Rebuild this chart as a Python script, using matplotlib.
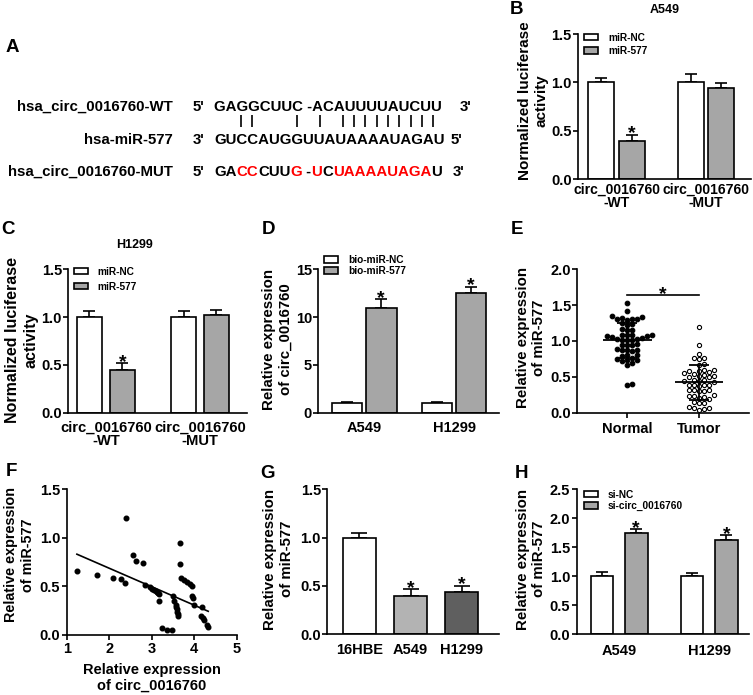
import numpy as np
import matplotlib
matplotlib.use("Agg")
import matplotlib.pyplot as plt
from matplotlib.patches import Patch

plt.rcParams['font.family'] = ['Liberation Sans', 'DejaVu Sans']
plt.rcParams['font.weight'] = 'bold'
plt.rcParams['axes.labelweight'] = 'bold'
plt.rcParams['axes.titleweight'] = 'bold'
plt.rcParams['axes.linewidth'] = 1.2
plt.rcParams['xtick.major.width'] = 1.2
plt.rcParams['ytick.major.width'] = 1.2
plt.rcParams['ytick.major.size'] = 3.6
plt.rcParams['ytick.major.pad'] = 1
plt.rcParams['xtick.labelsize'] = 10.5
plt.rcParams['ytick.labelsize'] = 10.5

W, H = 753, 695

# ---- A: binding sites ----
wt_label = 'hsa_circ_0016760-WT'
mir_label = 'hsa-miR-577'
mut_label = 'hsa_circ_0016760-MUT'
wt_seq = 'GAGGCUUC -ACAUUUUAUCUU'
mir_seq = 'GUCCAUGGUUAUAAAAUAGAU'
mut_parts = [('GA', 'black'), ('CC', 'red'), ('CUU', 'black'), ('G', 'red'),
             (' -', 'black'), ('U', 'red'), ('C', 'black'),
             ('UAAAAUAGA', 'red'), ('U', 'black')]
pair_cols = [2, 3, 7, 9, 11, 12, 13, 14, 15, 16, 17, 18, 19]

# ---- B / C: luciferase ----
luc_groups = ['circ_0016760\n-WT', 'circ_0016760\n-MUT']
luc_legend = ['miR-NC', 'miR-577']
b_nc = [1.0, 1.0]
b_nc_err = [0.05, 0.085]
b_mir = [0.40, 0.94]
b_mir_err = [0.06, 0.05]
c_nc = [1.0, 1.0]
c_nc_err = [0.06, 0.065]
c_mir = [0.45, 1.02]
c_mir_err = [0.065, 0.05]

# ---- D: pull-down ----
cells = ['A549', 'H1299']
d_legend = ['bio-miR-NC', 'bio-miR-577']
d_nc = [1.0, 1.0]
d_nc_err = [0.08, 0.08]
d_mir = [11.0, 12.5]
d_mir_err = [0.85, 0.7]

# ---- E: tissues ----
e_groups = ['Normal', 'Tumor']
e_normal = [1.53, 1.42, 1.35, 1.34, 1.30, 1.31, 1.29, 1.30, 1.32, 1.24, 1.22, 1.25,
            1.17, 1.15, 1.16, 1.07, 1.09, 1.08, 1.06, 1.08, 1.07, 1.09,
            1.03, 1.02, 1.04, 1.01, 1.03, 1.02, 0.95, 0.96, 0.94, 0.95,
            0.88, 0.89, 0.87, 0.88, 0.86, 0.80, 0.81, 0.79,
            0.76, 0.74, 0.73, 0.75, 0.72, 0.66, 0.69, 0.40, 0.38]
e_tumor = [1.20, 0.95, 0.82, 0.76, 0.75, 0.76, 0.68, 0.67,
           0.59, 0.58, 0.57, 0.59, 0.58, 0.54, 0.55,
           0.51, 0.50, 0.51, 0.52, 0.50, 0.45, 0.44, 0.43, 0.44, 0.45,
           0.38, 0.39, 0.37, 0.38, 0.39, 0.31, 0.30, 0.32, 0.31, 0.30,
           0.23, 0.22, 0.24, 0.23, 0.20, 0.19, 0.14, 0.13, 0.15,
           0.06, 0.07, 0.05, 0.04, 0.08]

# ---- F: correlation ----
f_circ = [1.24, 1.71, 2.08, 2.27, 2.38, 2.39, 2.55, 2.64, 2.80, 2.85, 2.96, 3.01,
          3.05, 3.10, 3.12, 3.14, 3.17, 3.18, 3.24, 3.36, 3.47, 3.51, 3.53, 3.56,
          3.58, 3.59, 3.60, 3.61, 3.62, 3.66, 3.67, 3.70, 3.76, 3.84, 3.89, 3.94,
          3.95, 3.96, 4.00, 4.18, 4.17, 4.20, 4.23, 4.29, 4.33]
f_mir = [0.66, 0.62, 0.59, 0.58, 0.54, 1.20, 0.82, 0.76, 0.745, 0.515, 0.49, 0.477,
         0.464, 0.45, 0.44, 0.437, 0.42, 0.35, 0.07, 0.055, 0.052, 0.40, 0.35, 0.31,
         0.29, 0.27, 0.24, 0.22, 0.20, 0.95, 0.73, 0.587, 0.567, 0.546, 0.525, 0.505,
         0.40, 0.38, 0.31, 0.29, 0.20, 0.17, 0.15, 0.10, 0.08]

# ---- G: cell lines ----
g_cells = ['16HBE', 'A549', 'H1299']
g_vals = [1.0, 0.40, 0.44]
g_err = [0.05, 0.065, 0.06]
g_colors = ['white', '#b3b3b3', '#5f5f5f']

# ---- H: knockdown ----
h_legend = ['si-NC', 'si-circ_0016760']
h_nc = [1.0, 1.0]
h_nc_err = [0.075, 0.055]
h_si = [1.74, 1.62]
h_si_err = [0.07, 0.085]

GRAY = '#a6a6a6'

fig = plt.figure(figsize=(W / 100, H / 100), dpi=100)
# pixel canvas for free text
cv = fig.add_axes([0, 0, 1, 1])
cv.set_xlim(0, W)
cv.set_ylim(H, 0)
cv.axis('off')
rend = fig.canvas.get_renderer()


def add_ax(l, t, r, b):
    ax = fig.add_axes([l / W, 1 - b / H, (r - l) / W, (b - t) / H])
    ax.spines['top'].set_visible(False)
    ax.spines['right'].set_visible(False)
    return ax


def ylab(ax, text, x, y, size=10.8):
    ax.set_ylabel(text, fontsize=size, va='center', ha='center', linespacing=1.25)
    ax.yaxis.set_label_coords(x, y, transform=cv.transData)


def stars(ax, xs, tops):
    for x, t in zip(xs, tops):
        ax.annotate('*', (x, t), xytext=(0, -2.5), textcoords='offset points',
                    ha='center', va='baseline', fontsize=14)


def grouped(ax, s1, e1, s2, e2, off, width, c2=GRAY):
    x = np.arange(len(s1))
    ax.bar(x - off, s1, width, color='white', edgecolor='black', linewidth=1.2, zorder=2)
    ax.bar(x + off, s2, width, color=c2, edgecolor='black', linewidth=1.2, zorder=2)
    for xx, v, e in [(x - off, s1, e1), (x + off, s2, e2)]:
        ax.errorbar(xx, v, yerr=[np.zeros(len(x)), e], fmt='none', ecolor='black',
                    elinewidth=1.2, capsize=4.5, capthick=1.2, zorder=1)
    return x


def legend(ax, labels, colors, anchor, ls):
    hs = [Patch(facecolor=c, edgecolor='black', linewidth=1.2) for c in colors]
    ax.legend(hs, labels, loc='upper left', bbox_to_anchor=anchor, frameon=False,
              fontsize=7.3, handlelength=1.35, handleheight=0.6, handletextpad=1.0,
              labelspacing=ls, borderpad=0, borderaxespad=0)


def text_width(s, size):
    tmp = cv.text(0, 0, s, fontsize=size)
    w = tmp.get_window_extent(rend).width
    tmp.remove()
    return w


# panel letters
for letter, (lx, ly) in zip('ABCDEFGH', [(12, 47), (517, 10), (8, 230), (269, 230),
                                        (517, 230), (11, 472), (268, 473), (522, 473)]):
    cv.text(lx, ly, letter, fontsize=13.5, ha='center', va='center')

# ---- A ----
fs = 10.8
cv.text(173, 111.2, wt_label, ha='right', va='baseline', fontsize=fs)
cv.text(193, 111.2, "5'", va='baseline', fontsize=fs)
cv.text(214, 111.2, wt_seq, va='baseline', fontsize=fs)
cv.text(460, 111.2, "3'", va='baseline', fontsize=fs)
cv.text(173, 143.5, mir_label, ha='right', va='baseline', fontsize=fs)
cv.text(193, 143.5, "3'", va='baseline', fontsize=fs)
cv.text(214, 143.5, mir_seq, va='baseline', fontsize=fs)
cv.text(451, 143.5, "5'", va='baseline', fontsize=fs)
cv.text(173, 175.5, mut_label, ha='right', va='baseline', fontsize=fs)
cv.text(193, 175.5, "5'", va='baseline', fontsize=fs)
prefix = ''
for s, c in mut_parts:
    cv.text(214 + (text_width(prefix, fs) if prefix else 0), 175.5, s, color=c,
            va='baseline', fontsize=fs)
    prefix += s
cv.text(453, 175.5, "3'", va='baseline', fontsize=fs)
cv.vlines(212.4 + 11.33 * (np.array(pair_cols) + 0.5), 115, 127, color='black', lw=1.2)

# ---- B ----
ax = add_ax(578, 34, 751, 179.3)
x = grouped(ax, b_nc, b_nc_err, b_mir, b_mir_err, 0.17, 0.29)
stars(ax, [x[0] + 0.17], [b_mir[0] + b_mir_err[0]])
ax.set_xlim(-0.43, 1.50)
ax.set_ylim(0, 1.5)
ax.set_yticks([0, 0.5, 1.0, 1.5])
ax.set_xticks(x, luc_groups, fontsize=10.1, linespacing=0.95)
ax.tick_params(axis='x', length=0, pad=2.5)
ax.set_title('A549', fontsize=9, pad=15)
legend(ax, luc_legend, ['white', GRAY], (0.035, 1.01), 0.35)
ylab(ax, 'Normalized luciferase\nactivity', 533, 101, 11.0)

# ---- C ----
ax = add_ax(68.3, 269.3, 247, 412.7)
x = grouped(ax, c_nc, c_nc_err, c_mir, c_mir_err, 0.175, 0.27)
stars(ax, [x[0] + 0.175], [c_mir[0] + c_mir_err[0]])
ax.set_xlim(-0.40, 1.50)
ax.set_ylim(0, 1.5)
ax.set_yticks([0, 0.5, 1.0, 1.5])
ax.set_xticks(x, luc_groups, fontsize=10.6, linespacing=0.95)
ax.tick_params(axis='x', length=0, pad=6)
ax.set_title('H1299', fontsize=9, pad=15, x=0.373)
legend(ax, luc_legend, ['white', GRAY], (0.032, 1.019), 0.5)
ylab(ax, 'Normalized luciferase\nactivity', 22, 340, 11.5)

# ---- D ----
ax = add_ax(318.3, 269.3, 499, 412.7)
x = grouped(ax, d_nc, d_nc_err, d_mir, d_mir_err, 0.19, 0.34)
stars(ax, x + 0.19, np.array(d_mir) + np.array(d_mir_err))
ax.set_xlim(-0.51, 1.50)
ax.set_ylim(0, 15)
ax.set_yticks([0, 5, 10, 15])
ax.set_xticks(x, cells)
ax.tick_params(axis='x', length=0, pad=6)
legend(ax, d_legend, ['white', GRAY], (0.032, 1.10), 0.1)
ylab(ax, 'Relative expression\nof circ_0016760', 277.5, 339)


# ---- E ----
def swarm(vals, ux, uy, gap):
    ys = np.asarray(vals) * uy
    xs = np.zeros(len(ys))
    done = []
    for i in np.argsort(ys):
        for k in range(80):
            step = (k + 1) // 2
            cand = step * gap * 0.5 * (1 if k % 2 == 1 else -1)
            if all((cand - xs[j]) ** 2 + (ys[i] - ys[j]) ** 2 >= gap ** 2 for j in done):
                xs[i] = cand
                break
        done.append(i)
    return xs / ux


ax = add_ax(577.3, 269.3, 749, 412.7)
ux = (749 - 577.3) / 2.4
uy = (412.7 - 269.3) / 2.0
for k, (vals, face) in enumerate([(e_normal, 'black'), (e_tumor, 'white')]):
    pos = k + 1 + swarm(vals, ux, uy, 5.0)
    ax.scatter(pos, vals, s=11 if face == 'black' else 9, facecolor=face,
               edgecolor='black', linewidth=0.8, zorder=3)
    m = np.mean(vals)
    sd = np.std(vals, ddof=1)
    ax.hlines(m, k + 1 - 0.34, k + 1 + 0.34, color='black', lw=1.3, zorder=4)
    ax.errorbar(k + 1, m, yerr=sd, fmt='none', ecolor='black', elinewidth=1.3,
                capsize=7.5, capthick=1.3, zorder=4)
ax.plot([1, 2], [1.64, 1.64], color='black', lw=1.2)
stars(ax, [1.5], [1.64])
ax.set_xlim(0.3, 2.7)
ax.set_ylim(0, 2.0)
ax.set_yticks([0, 0.5, 1.0, 1.5, 2.0])
ax.set_xticks([1, 2], e_groups)
ax.tick_params(axis='x', length=3.6, pad=3)
ylab(ax, 'Relative expression\nof miR-577', 531, 338)

# ---- F ----
ax = add_ax(66.7, 489.3, 236.7, 635)
ax.scatter(f_circ, f_mir, s=11, color='black', zorder=3)
k, b = np.polyfit(f_circ, f_mir, 1)
xl = np.array([min(f_circ), max(f_circ)])
ax.plot(xl, k * xl + b, color='black', lw=1.2)
ax.set_xlim(1, 5)
ax.set_ylim(0, 1.5)
ax.set_xticks([1, 2, 3, 4, 5])
ax.set_yticks([0, 0.5, 1.0, 1.5])
ax.tick_params(axis='x', length=3.6, pad=1.5)
ylab(ax, 'Relative expression\nof miR-577', 19.5, 555, 10.4)
ax.set_xlabel('Relative expression\nof circ_0016760', fontsize=10.5, va='center', linespacing=1.15)
ax.xaxis.set_label_coords(152, 678, transform=cv.transData)
cv.text(176.7, 501.7, 'r', style='italic', fontsize=8.8, va='baseline')
cv.text(176.7 + text_width('r', 8.8), 501.7, ' =-0.5529', fontsize=8.8, va='baseline')
cv.text(176.7, 513.3, 'p', style='italic', fontsize=8.8, va='baseline')
cv.text(176.7 + text_width('p', 8.8), 513.3, ' < 0.0001', fontsize=8.8, va='baseline')

# ---- G ----
ax = add_ax(327.3, 489.3, 499, 634.3)
x = np.arange(len(g_cells))
ax.bar(x, g_vals, 0.65, color=g_colors, edgecolor='black', linewidth=1.2, zorder=2)
ax.errorbar(x, g_vals, yerr=[np.zeros(len(x)), g_err], fmt='none', ecolor='black',
            elinewidth=1.2, capsize=5.5, capthick=1.2, zorder=1)
stars(ax, x[1:], (np.array(g_vals) + np.array(g_err))[1:])
ax.set_xlim(-0.63, 2.73)
ax.set_ylim(0, 1.5)
ax.set_yticks([0, 0.5, 1.0, 1.5])
ax.set_xticks(x, g_cells)
ax.tick_params(axis='x', length=0, pad=6)
ylab(ax, 'Relative expression\nof miR-577', 278.5, 559)

# ---- H ----
ax = add_ax(576.7, 489.3, 749, 634.3)
x = grouped(ax, h_nc, h_nc_err, h_si, h_si_err, 0.19, 0.25)
stars(ax, x + 0.19, np.array(h_si) + np.array(h_si_err))
ax.set_xlim(-0.47, 1.44)
ax.set_ylim(0, 2.5)
ax.set_yticks([0, 0.5, 1.0, 1.5, 2.0, 2.5])
ax.set_xticks(x, cells)
ax.tick_params(axis='x', length=0, pad=7)
legend(ax, h_legend, ['white', GRAY], (0.042, 0.998), 0.15)
ylab(ax, 'Relative expression\nof miR-577', 531, 559)

fig.savefig('out.png', dpi=100, facecolor='white')
